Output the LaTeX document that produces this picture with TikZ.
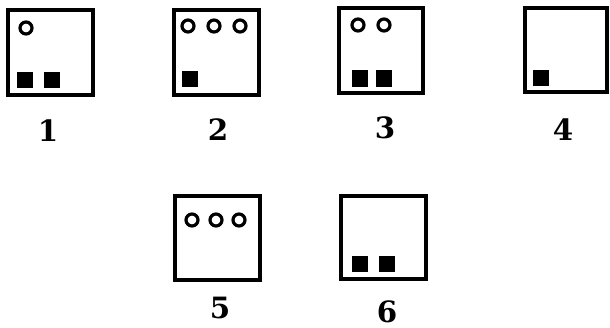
\documentclass[tikz,border=0pt]{standalone}
\usepackage{fontspec}
\newfontfamily\numfont{DejaVu Serif}
\begin{document}
\begin{tikzpicture}[x=0.75pt,y=-0.75pt,
  card/.style={draw=black,line width=2.3pt,fill=white},
  ring/.style={draw=black,line width=2.4pt},
  blk/.style={fill=black},
  num/.style={font=\numfont\fontsize{22}{22}\selectfont\bfseries,inner sep=0pt}]
\useasboundingbox (0,0) rectangle (610,328);
% box 1
\draw[card] (8,10) rectangle (93,95);
\draw[ring] (26,28) circle (6);
\fill[blk] (17,72) rectangle (33,88);
\fill[blk] (44,72) rectangle (60,88);
\node[num] (l1) at (48,131) {1};
% box 2
\draw[card] (174,10) rectangle (259,95);
\draw[ring] (188,26) circle (6);
\draw[ring] (214,26) circle (6);
\draw[ring] (240,26) circle (6);
\fill[blk] (182,71) rectangle (198,87);
\node[num] (l2) at (218,130) {2};
% box 3
\draw[card] (339,8) rectangle (423,93);
\draw[ring] (358,25) circle (6);
\draw[ring] (384,25) circle (6);
\fill[blk] (352,70) rectangle (368,87);
\fill[blk] (376,70) rectangle (392,87);
\node[num] (l3) at (385,128) {3};
% box 4
\draw[card] (525,8) rectangle (607,92);
\fill[blk] (533,70) rectangle (549,86);
\node[num] (l4) at (563,130) {4};
% box 5
\draw[card] (175,196) rectangle (260,280);
\draw[ring] (192,220) circle (6);
\draw[ring] (216,220) circle (6);
\draw[ring] (239,220) circle (6);
\node[num] (l5) at (220,308) {5};
% box 6
\draw[card] (341,196) rectangle (426,279);
\fill[blk] (352,256) rectangle (368,272);
\fill[blk] (379,256) rectangle (395,272);
\node[num] (l6) at (387,312) {6};
\end{tikzpicture}
\end{document}
